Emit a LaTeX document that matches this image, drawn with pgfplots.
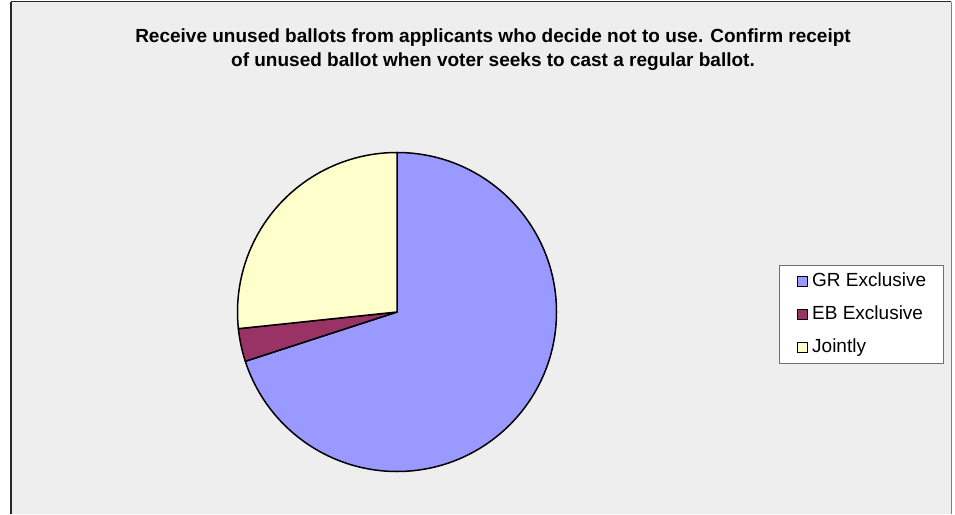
\documentclass[border=0pt]{standalone}
\usepackage{fontspec}
\setmainfont{Liberation Sans}
\usepackage{pgfplots}
\usepackage{pgfplotstable}
\pgfplotsset{compat=1.18}
\definecolor{grcol}{HTML}{9999FF}
\definecolor{ebcol}{HTML}{993366}
\definecolor{jocol}{HTML}{FFFFCC}
\definecolor{bggray}{HTML}{EEEEEE}
\definecolor{legframe}{HTML}{707070}
\pgfplotstableread{
label value
GR 21
EB 1
Jointly 8
}\piedata
\begin{document}
\begin{tikzpicture}
\pgfplotstablegetelem{0}{value}\of\piedata \let\vA\pgfplotsretval
\pgfplotstablegetelem{1}{value}\of\piedata \let\vB\pgfplotsretval
\pgfplotstablegetelem{2}{value}\of\piedata \let\vC\pgfplotsretval
\pgfmathsetmacro\tot{\vA+\vB+\vC}
\pgfmathsetmacro\aO{90}
\pgfmathsetmacro\aI{\aO-360*\vA/\tot}
\pgfmathsetmacro\aII{\aI-360*\vB/\tot}
\pgfmathsetmacro\aIII{\aII-360*\vC/\tot}
\begin{axis}[
  x=1pt, y=1pt, xmin=0, xmax=955, ymin=0, ymax=514,
  hide axis, clip=false, disabledatascaling,
  legend image code/.code={\draw[#1, draw=black, line width=1.3pt] (0pt,-5pt) rectangle (10pt,5pt);},
  legend style={at={(axis description cs:0.8157,0.4844)}, anchor=north west,
    draw=legframe, line width=0.8pt, fill=white,
    font=\fontsize{19}{22}\selectfont,
    inner xsep=17.5pt, inner ysep=7.5pt,
    nodes={inner sep=0pt, text height=14pt, text depth=3pt},
    row sep=16pt, column sep=4pt},
  legend cell align=left,
]
\fill[white] (axis cs:0,0) rectangle (axis cs:955,514);
\fill[bggray] (axis cs:11,0) rectangle (axis cs:951,512);
\draw[black!85, line width=1.6pt] (axis cs:11,0) -- (axis cs:11,512);
\draw[black!85, line width=1pt] (axis cs:11,512) -- (axis cs:951,512);
\draw[gray, line width=0.8pt] (axis cs:951,512) -- (axis cs:951,0);
\node[anchor=base, font=\bfseries\fontsize{19}{23}\selectfont] at (axis cs:493,471.5) {Receive unused ballots from applicants who decide not to use. Confirm receipt};
\node[anchor=base, font=\bfseries\fontsize{19}{23}\selectfont] at (axis cs:493,447.5) {of unused ballot when voter seeks to cast a regular ballot.};
\filldraw[fill=grcol, draw=black, line width=1.5pt, line join=round] (axis cs:397,202) -- ++(\aO:159.5pt) arc[start angle=\aO, end angle=\aI, radius=159.5pt] -- cycle;
\filldraw[fill=ebcol, draw=black, line width=1.5pt, line join=round] (axis cs:397,202) -- ++(\aI:159.5pt) arc[start angle=\aI, end angle=\aII, radius=159.5pt] -- cycle;
\filldraw[fill=jocol, draw=black, line width=1.5pt, line join=round] (axis cs:397,202) -- ++(\aII:159.5pt) arc[start angle=\aII, end angle=\aIII, radius=159.5pt] -- cycle;
\addlegendimage{fill=grcol}
\addlegendentry{GR Exclusive}
\addlegendimage{fill=ebcol}
\addlegendentry{EB Exclusive}
\addlegendimage{fill=jocol}
\addlegendentry{Jointly}
\end{axis}
\end{tikzpicture}
\end{document}
